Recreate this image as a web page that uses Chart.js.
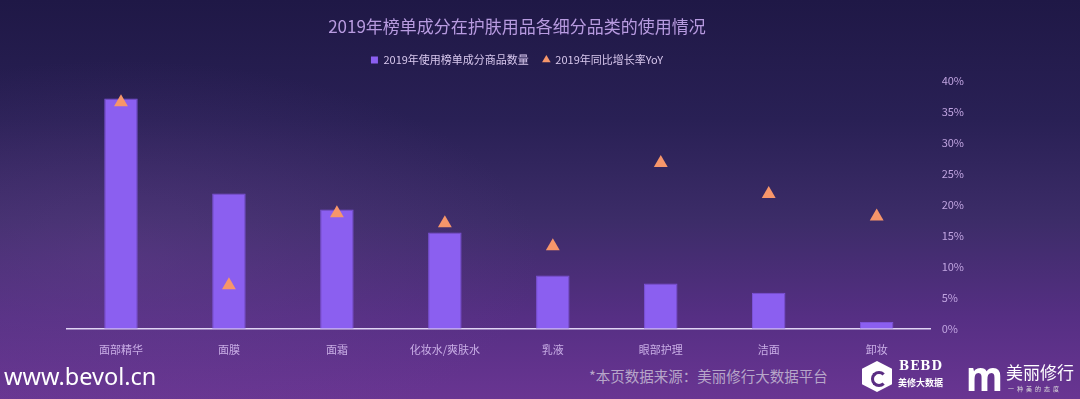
<!DOCTYPE html>
<html>
<head>
<meta charset="utf-8">
<script src="https://cdn.jsdelivr.net/npm/chart.js@4"></script>
<style>
  html, body { margin: 0; padding: 0; }
  body {
    width: 1080px; height: 399px; overflow: hidden; position: relative;
    background:
      radial-gradient(ellipse 420px 200px at 120px 260px, rgba(110, 70, 150, 0.35), rgba(110, 70, 150, 0) 100%),
      linear-gradient(180deg, #1f1846 0%, #292055 30%, #3c2c68 55%, #562f84 80%, #693592 100%);
    font-family: "Noto Sans CJK SC", "Noto Sans", sans-serif;
  }
  #wrap { position: absolute; left: 0; top: 0; width: 1080px; height: 362px; }
  .site { position: absolute; left: 4px; top: 360px; color: #ffffff; font-size: 23.5px; font-family: "Noto Sans", sans-serif; }
  .src { position: absolute; left: 589px; top: 365px; color: #b7a6c9; font-size: 14.5px; }
  .bebd { position: absolute; left: 862px; top: 361px; width: 30px; height: 31px; background: #fff;
          clip-path: polygon(50% 0, 100% 25%, 100% 75%, 50% 100%, 0 75%, 0 25%); border-radius: 4px; }
  .bebd::after { content: ''; position: absolute; left: 9px; top: 10px; width: 10px; height: 10px;
          border: 3px solid #5a2d82; border-radius: 50%; border-right-color: transparent; }
  .bebd-t { position: absolute; left: 899px; top: 359px; color: #fff; font: bold 12px "DejaVu Serif", serif; letter-spacing: 1px; }
  .bebd-s { position: absolute; left: 898px; top: 376px; color: #fff; font: bold 9px "Noto Sans CJK SC", serif; }
  .m { position: absolute; left: 966px; top: 346px; color: #fff; font: bold 42px "Noto Sans", sans-serif; transform: scaleX(0.9); transform-origin: left; }
  .mt { position: absolute; left: 1006px; top: 359px; color: #fff; font-size: 17px; }
  .ms { position: absolute; left: 1008px; top: 384px; color: #ddd; font-size: 6px; letter-spacing: 3px; }
</style>
</head>
<body>
<div id="wrap"><canvas id="c"></canvas></div>
<div class="site">www.bevol.cn</div>
<div class="src">*本页数据来源：美丽修行大数据平台</div>
<div class="bebd"></div>
<div class="bebd-t">BEBD</div>
<div class="bebd-s">美修大数据</div>
<div class="m">m</div>
<div class="mt">美丽修行</div>
<div class="ms">一种美的态度</div>
<script>
const categories = ['面部精华', '面膜', '面霜', '化妆水/爽肤水', '乳液', '眼部护理', '洁面', '卸妆'];
const productCounts = [371, 218, 192, 155, 86, 73, 58, 11];
const yoyGrowth = [36.5, 7.0, 18.6, 17.0, 13.3, 26.7, 21.7, 18.1];
const percentTicks = [0, 5, 10, 15, 20, 25, 30, 35, 40];

const font = '"Noto Sans CJK SC", "Noto Sans", sans-serif';

// extra space under the legend so the plot keeps its place
const legendGap = {
  id: 'legendGap',
  beforeInit(chart) {
    const fit = chart.legend.fit;
    chart.legend.fit = function () {
      fit.bind(chart.legend)();
      this.height += 5;
    };
  }
};

new Chart(document.getElementById('c'), {
  data: {
    labels: categories,
    datasets: [
      {
        type: 'line',
        label: '2019年同比增长率YoY',
        data: yoyGrowth,
        yAxisID: 'y1',
        showLine: false,
        pointStyle: 'triangle',
        pointRadius: 8,
        pointHoverRadius: 8,
        backgroundColor: '#f7966a',
        borderColor: '#f7966a',
        borderWidth: 0
      },
      {
        type: 'bar',
        label: '2019年使用榜单成分商品数量',
        data: productCounts,
        yAxisID: 'y',
        backgroundColor: '#8b5ff0',
        borderColor: '#7c52d8',
        borderWidth: 1,
        barPercentage: 0.31,
        categoryPercentage: 1
      }
    ]
  },
  options: {
    responsive: true,
    maintainAspectRatio: false,
    animation: false,
    layout: { padding: { left: 67, right: 113, top: 0, bottom: 0 } },
    plugins: {
      title: {
        display: true,
        text: '2019年榜单成分在护肤用品各细分品类的使用情况',
        color: '#b89be0',
        font: { family: font, size: 17, weight: 'normal' },
        padding: { top: 16, bottom: 4 }
      },
      legend: {
        reverse: true,
        labels: {
          color: '#d8c8ee',
          font: { family: font, size: 11 },
          usePointStyle: true,
          boxWidth: 7,
          boxHeight: 7,
          padding: 14,
          generateLabels(chart) {
            return chart.data.datasets.map((ds, i) => ({
              text: ds.label,
              fillStyle: ds.backgroundColor,
              strokeStyle: ds.backgroundColor,
              lineWidth: 0,
              pointStyle: ds.type === 'bar' ? 'rect' : 'triangle',
              fontColor: '#d8c8ee',
              datasetIndex: i,
              hidden: false
            }));
          }
        }
      },
      tooltip: { enabled: false }
    },
    scales: {
      x: {
        grid: { display: false },
        border: { display: true, color: '#e0d4f4', width: 1.5 },
        ticks: { color: '#c9aee6', font: { family: font, size: 11 }, padding: 6 }
      },
      y: {
        display: false,
        min: 0,
        max: 400
      },
      y1: {
        position: 'right',
        min: 0,
        max: 40,
        grid: { display: false },
        border: { display: false },
        afterBuildTicks(axis) { axis.ticks = percentTicks.map(v => ({ value: v })); },
        ticks: {
          color: '#c0a4e0',
          font: { family: font, size: 11 },
          padding: 3,
          callback: v => v + '%'
        }
      }
    }
  },
  plugins: [legendGap]
});
</script>
</body>
</html>
